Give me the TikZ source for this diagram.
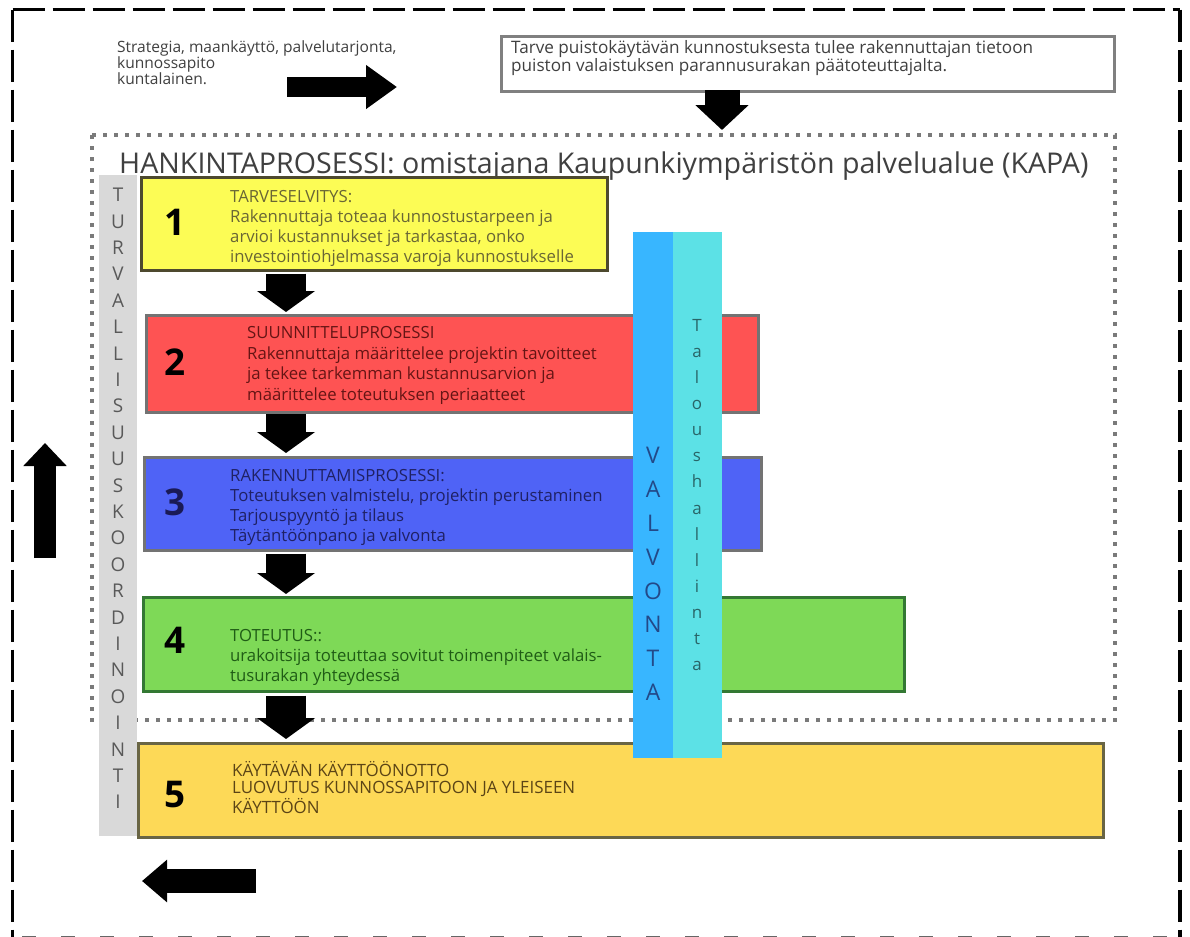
\documentclass[tikz,border=0pt]{standalone}
\usepackage{fontspec}
\setmainfont{Open Sans}
\usetikzlibrary{arrows.meta}
\definecolor{cyel}{HTML}{FCFC55}
\definecolor{cred}{HTML}{FE5353}
\definecolor{cblue}{HTML}{4F63F6}
\definecolor{cgreen}{HTML}{7ED957}
\definecolor{cgold}{HTML}{FDD957}
\definecolor{cbar}{HTML}{D9D9D9}
\definecolor{cval}{HTML}{38B6FF}
\definecolor{ctal}{HTML}{5CE1E6}
\definecolor{cdot}{HTML}{7A7A7A}
\definecolor{cnavy}{HTML}{1A1A55}
\tikzset{
  procbox/.style={draw=#1, line width=2.5bp, anchor=north west, inner sep=0pt},
  numtxt/.style={font=\fontsize{37}{37}\selectfont\bfseries, anchor=center},
  boxtxt/.style={font=\fontsize{16.8}{20}\selectfont, anchor=north west, align=left, inner sep=0pt, text opacity=0.75},
  fatdown/.style={line width=40bp, -{Triangle[width=57bp,length=21bp]}},
  fatarrow/.style={line width=#1, -{Triangle[width=42bp,length=31bp]}},
  vletters/.style={align=center, inner sep=0pt, anchor=north},
}
\begin{document}
\begin{tikzpicture}[x=1bp,y=-1bp]
\useasboundingbox (0,0) rectangle (1190,937);
\fill[white] (0,0) rectangle (1190,937);
% outer dashed frame
\draw[line width=3.5bp, dash pattern=on 32bp off 8bp] (12.5,9.5) -- (1180,9.5);
\draw[line width=3.5bp, dash pattern=on 32bp off 8bp] (12.5,9.5) -- (12.5,937);
\draw[line width=3.5bp, dash pattern=on 32bp off 8bp] (1180,9.5) -- (1180,937);
\draw[line width=2bp, black!60, dash pattern=on 14bp off 25bp] (22,937) -- (1180,937);

% top-left text and arrow
\node[font=\fontsize{15.6}{16.5}\selectfont, anchor=north west, align=left, inner sep=0pt, text=black!75] (strat) at (117,40) {Strategia, maankäyttö, palvelutarjonta,\\kunnossapito\\kuntalainen.};
\coordinate (ra1) at (287,87);
\coordinate (ra2) at (397,87);
\draw[fatarrow=20bp] (ra1) -- (ra2);

% top-right box
\node[draw=black!50, line width=3bp, anchor=north west, minimum width=613bp, minimum height=55bp, inner sep=0pt] (tarve) at (500,35) {};
\node[font=\fontsize{17.2}{18}\selectfont, anchor=north west, align=left, inner sep=0pt, text=black!75] (tarvetxt) at (511,40) {Tarve puistokäytävän kunnostuksesta tulee rakennuttajan tietoon\\puiston valaistuksen parannusurakan päätoteuttajalta.};
\draw[line width=35bp, -{Triangle[width=52bp,length=25bp]}] (722,90) -- (722,130);

% dotted hankinta frame
\draw[cdot, line width=4bp, dash pattern=on 4bp off 7bp] (92,135) rectangle (1115,720);
\node[font=\fontsize{28.7}{30}\selectfont, anchor=base west, inner sep=0pt, text=black!75] (title) at (119,173) {HANKINTAPROSESSI: omistajana Kaupunkiympäristön palvelualue (KAPA)};

% gray vertical bar
\fill[cbar] (99,175) rectangle (137,836);
\node[vletters, font=\fontsize{19}{26.5}\selectfont, text=black!65] (turva) at (118,188) {T\\U\\R\\V\\A\\L\\L\\I\\S\\U\\U\\S\\K\\O\\O\\R\\D\\I\\N\\O\\I\\N\\T\\I};

% process boxes
\node[procbox=black!60!olive, fill=cyel, minimum width=466bp, minimum height=93bp] (b1) at (140,176) {};
\node[procbox=black!55, fill=cred, minimum width=612bp, minimum height=97bp] (b2) at (145,314) {};
\node[procbox=black!55, fill=cblue, minimum width=617bp, minimum height=93bp] (b3) at (143,456) {};
\node[procbox=black!55!green!60!gray, fill=cgreen, minimum width=761bp, minimum height=94bp] (b4) at (142,596) {};
\node[procbox=black!50!olive!70!gray, fill=cgold, minimum width=965bp, minimum height=94bp] (b5) at (137,742) {};

\node[numtxt] (n1) at (175,222) {1};
\node[numtxt] (n2) at (175,362) {2};
\node[numtxt, text=cnavy] (n3) at (175,502) {3};
\node[numtxt] (n4) at (175,640) {4};
\node[numtxt] (n5) at (175,795) {5};

\node[boxtxt, text=black!80!olive] (t1) at (230,190) {TARVESELVITYS:\\Rakennuttaja toteaa kunnostustarpeen ja\\arvioi kustannukset ja tarkastaa, onko\\investointiohjelmassa varoja kunnostukselle};
\node[boxtxt, text=black!80!red, font=\fontsize{16.8}{20.8}\selectfont] (t2) at (247,326) {SUUNNITTELUPROSESSI\\Rakennuttaja määrittelee projektin tavoitteet\\ja tekee tarkemman kustannusarvion ja\\määrittelee toteutuksen periaatteet};
\node[boxtxt, text=cnavy, text opacity=0.9] (t3) at (230,469) {RAKENNUTTAMISPROSESSI:\\Toteutuksen valmistelu, projektin perustaminen\\Tarjouspyyntö ja tilaus\\Täytäntöönpano ja valvonta};
\node[boxtxt, text=black!80!green] (t4) at (230,629) {TOTEUTUS::\\urakoitsija toteuttaa sovitut toimenpiteet valais-\\tusurakan yhteydessä};
\node[boxtxt, font=\fontsize{17}{17.5}\selectfont, text=black!85!orange] (t5) at (232,761) {KÄYTÄVÄN KÄYTTÖÖNOTTO\\LUOVUTUS KUNNOSSAPITOON JA YLEISEEN\\KÄYTTÖÖN};

% down arrows between boxes
\draw[fatdown] (b1.south -| 286,0) ++(0,2) -- (286,312);
\draw[fatdown] (b2.south -| 286,0) -- (286,453);
\draw[fatdown] (b3.south -| 286,0) ++(0,2) -- (286,594);
\draw[fatdown] (b4.south -| 286,0) ++(0,3) -- (286,739);

% vertical bars
\fill[cval] (633,232) rectangle (673,758);
\fill[ctal] (673,232) rectangle (722,758);
\node[vletters, font=\fontsize{23}{34}\selectfont, text=cnavy!70!cval] (valv) at (653,447) {V\\A\\L\\V\\O\\N\\T\\A};
\node[vletters, font=\fontsize{17}{26.2}\selectfont, text=black!55!ctal] (talous) at (697,319) {T\\a\\l\\o\\u\\s\\h\\a\\l\\l\\i\\n\\t\\a};

% side arrows
\coordinate (ua1) at (45,558);
\coordinate (ua2) at (45,443);
\draw[line width=22bp, -{Triangle[width=42bp,length=23bp]}] (ua1) -- (ua2);
\coordinate (la1) at (256,881);
\coordinate (la2) at (142,881);
\draw[line width=24bp, -{Triangle[width=41bp,length=25bp]}] (la1) -- (la2);
\end{tikzpicture}
\end{document}
